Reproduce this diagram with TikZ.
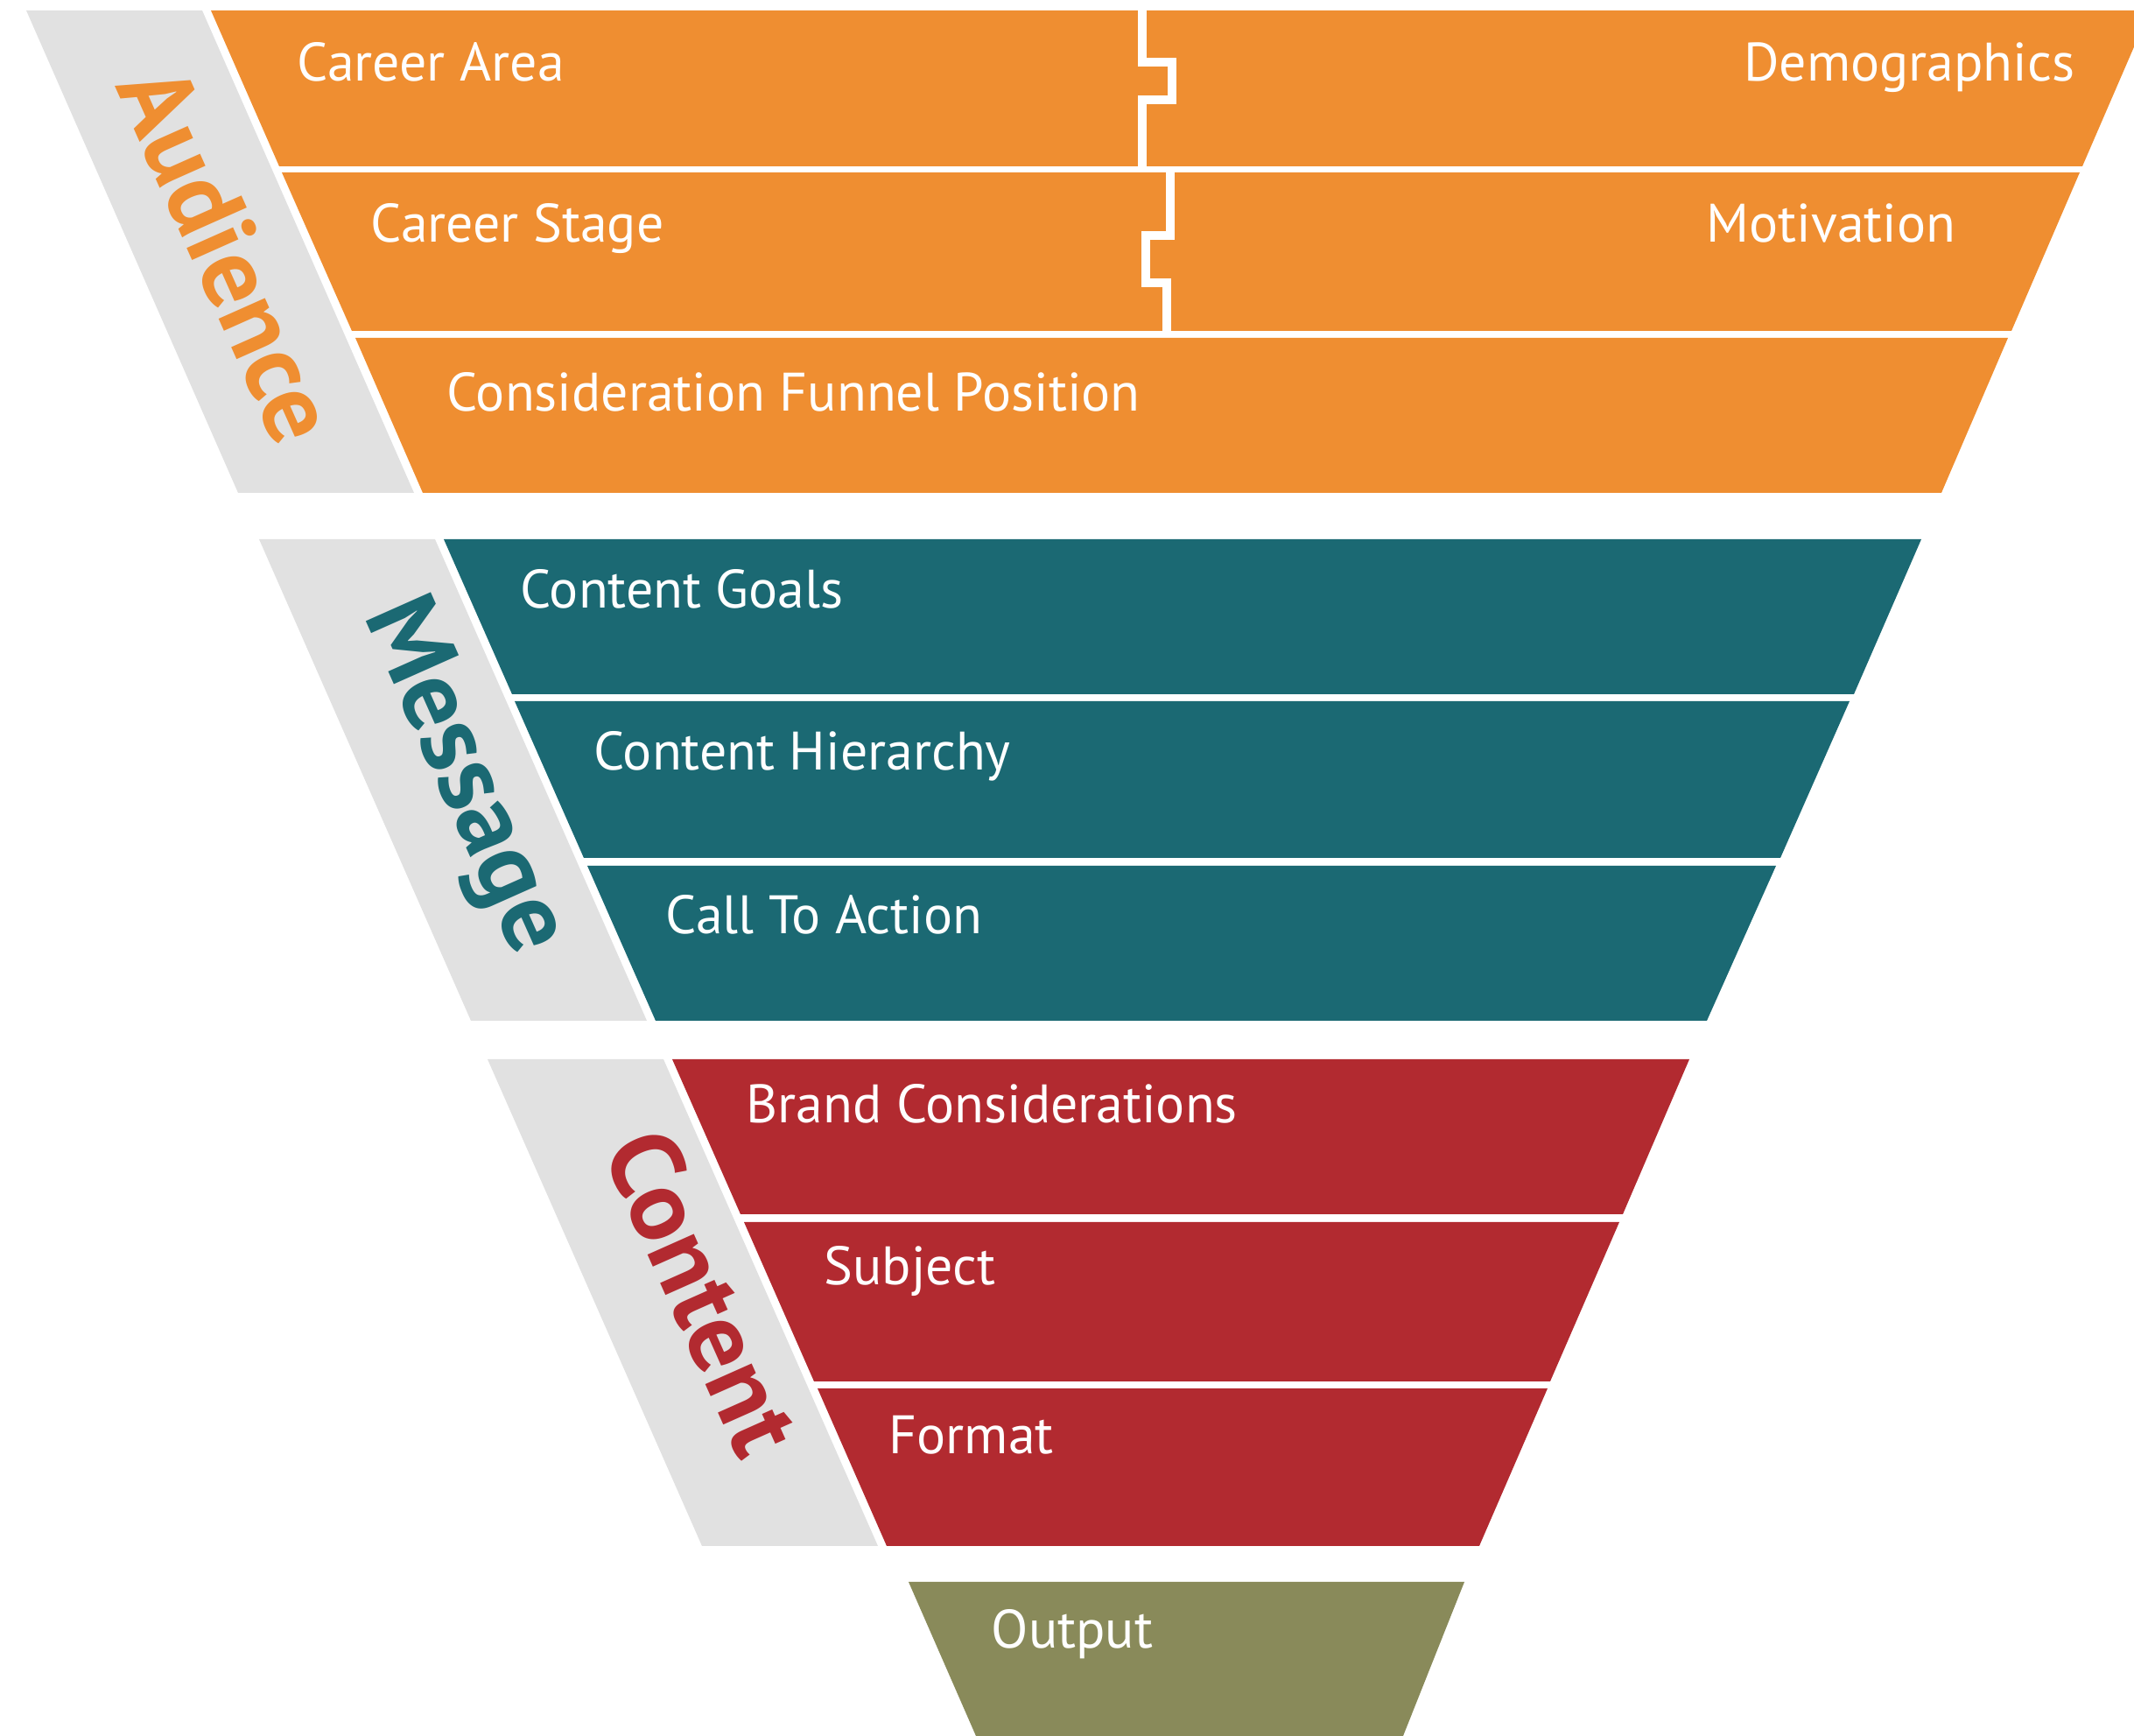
\documentclass[tikz,border=0pt]{standalone}
\usepackage{fontspec}
\setmainfont{PT Sans}
\usepackage{tikz}

\definecolor{audience}{HTML}{EF8E31}
\definecolor{message}{HTML}{1B6973}
\definecolor{content}{HTML}{B22A30}
\definecolor{output}{HTML}{898A5A}
\definecolor{sidegray}{HTML}{E1E1E1}

\begin{document}
\begin{tikzpicture}[
  item/.style={anchor=base west, text=white, inner sep=0pt, font=\fontsize{17.6}{20}\selectfont},
  itemr/.style={item, anchor=base east},
  side/.style={rotate=-66, inner sep=0pt, font=\bfseries\fontsize{33}{36}\selectfont},
  joint/.style={white, line width=1mm}
]
  \useasboundingbox (0,0) rectangle (24.38,19.83);
  \clip (0,0) rectangle (24.38,19.83);

  % grey side bars
  \fill [sidegray] (0.30,19.71) -- (2.31,19.71) -- (4.73,14.20) -- (2.72,14.20) -- cycle;
  \fill [sidegray] (2.96,13.67) -- (4.97,13.67) -- (7.39,8.17) -- (5.38,8.17) -- cycle;
  \fill [sidegray] (5.57,7.73) -- (7.58,7.73) -- (10.03,2.17) -- (8.02,2.17) -- cycle;

  % audience
  \fill [audience] (2.41,19.71) -- (24.56,19.71) -- (23.79,17.93) -- (3.19,17.93) -- cycle;
  \fill [audience] (3.22,17.86) -- (23.76,17.86) -- (22.98,16.05) -- (4.02,16.05) -- cycle;
  \fill [audience] (4.06,15.97) -- (22.94,15.97) -- (22.18,14.20) -- (4.83,14.20) -- cycle;
  \draw [joint] (13.05,19.75) -- (13.05,19.12) -- (13.39,19.12) -- (13.39,18.69)
    -- (13.05,18.69) -- (13.05,17.90);
  \draw [joint] (13.365,17.90) -- (13.365,17.14) -- (13.09,17.14) -- (13.09,16.60)
    -- (13.33,16.60) -- (13.33,16.00);

  % message
  \fill [message] (5.07,13.67) -- (21.95,13.67) -- (21.18,11.90) -- (5.85,11.90) -- cycle;
  \fill [message] (5.88,11.82) -- (21.13,11.82) -- (20.34,10.03) -- (6.67,10.03) -- cycle;
  \fill [message] (6.71,9.94) -- (20.29,9.94) -- (19.50,8.17) -- (7.49,8.17) -- cycle;

  % content
  \fill [content] (7.68,7.73) -- (19.30,7.73) -- (18.54,5.96) -- (8.46,5.96) -- cycle;
  \fill [content] (8.50,5.87) -- (18.50,5.87) -- (17.71,4.05) -- (9.30,4.05) -- cycle;
  \fill [content] (9.34,3.97) -- (17.68,3.97) -- (16.90,2.17) -- (10.13,2.17) -- cycle;

  % output
  \fill [output] (10.38,1.76) -- (16.73,1.76) -- (16.03,0) -- (11.15,0) -- cycle;

  % side labels
  \node [side, text=audience] (audience) at (2.61,16.93) {Audience};
  \node [side, text=message] (message) at (5.28,10.95) {Message};
  \node [side, text=content] (content) at (8.04,5.07) {Content};

  % band labels
  \node [item] (area) at (3.39,18.90) {Career Area};
  \node [itemr] (demo) at (23.71,18.90) {Demographics};
  \node [item] (stage) at (4.23,17.06) {Career Stage};
  \node [itemr] (motiv) at (22.35,17.06) {Motivation};
  \node [item] (funnel) at (5.10,15.13) {Consideration Funnel Position};
  \node [item] (goals) at (5.94,12.88) {Content Goals};
  \node [item] (hier) at (6.78,11.03) {Content Hierarchy};
  \node [item] (action) at (7.60,9.16) {Call To Action};
  \node [item] (brand) at (8.52,7.00) {Brand Considerations};
  \node [item] (subject) at (9.41,5.15) {Subject};
  \node [item] (format) at (10.15,3.22) {Format};
  \node [item] (out) at (11.32,1.00) {Output};
\end{tikzpicture}
\end{document}
